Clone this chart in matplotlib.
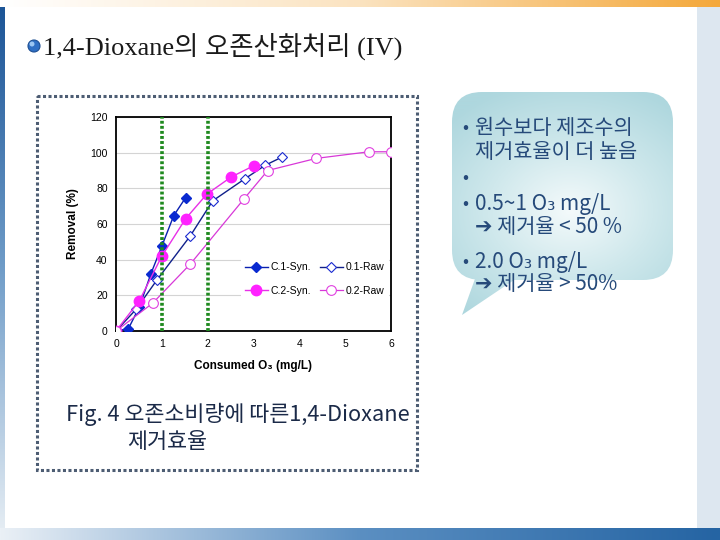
import numpy as np
import matplotlib
matplotlib.use("Agg")
from matplotlib import pyplot as plt
from matplotlib.patches import FancyBboxPatch, Polygon, Circle
from matplotlib.colors import LinearSegmentedColormap

# data
c1_syn_x = [0, 0.27, 0.51, 0.76, 1.0, 1.26, 1.52]
c1_syn_y = [0, 1.3, 13.5, 32, 47.6, 64.7, 74.8]
raw1_x = [0, 0.44, 0.89, 1.62, 2.11, 2.82, 3.26, 3.62]
raw1_y = [0, 12.2, 28.5, 53.3, 73, 85.5, 93, 97.5]
c2_syn_x = [0, 0.51, 1.0, 1.52, 1.98, 2.51, 3.0]
c2_syn_y = [0, 17, 42, 63, 76.7, 86.3, 92.6]
raw2_x = [0, 0.8, 1.62, 2.79, 3.31, 4.37, 5.52, 6.0]
raw2_y = [0, 15.6, 37.5, 74, 90, 96.8, 100.5, 100.5]
dose_marks = [1, 2]

title = "1,4-Dioxane의 오존산화처리 (IV)"
caption1 = "Fig. 4 오존소비량에 따른1,4-Dioxane"
caption2 = "제거효율"
bubble_lines = [
    ("•", "원수보다 제조수의", 128),
    ("", "제거효율이 더 높음", 152),
    ("•", "", 178),
    ("•", "0.5~1 O₃ mg/L", 204),
    ("", "➔ 제거율 < 50 %", 227),
    ("•", "2.0 O₃ mg/L", 262),
    ("", "➔ 제거율 > 50%", 284),
]

kr = ['Noto Sans CJK KR', 'DejaVu Sans']
sans = ['Liberation Sans', 'DejaVu Sans']
fig = plt.figure(figsize=(7.2, 5.4), dpi=100)

# slide background, pixel coordinates
bg = fig.add_axes([0, 0, 1, 1], zorder=0)
bg.set_xlim(0, 720)
bg.set_ylim(540, 0)
bg.axis('off')

top_cmap = LinearSegmentedColormap.from_list('top', ['#ffffff', '#fbe3c0', '#f4a83a'])
bg.imshow(np.linspace(0, 1, 256)[None, :], cmap=top_cmap, extent=[0, 720, 7, 0], aspect='auto')
left_cmap = LinearSegmentedColormap.from_list('left', ['#1c5597', '#6f9cc8', '#e4ecf3'])
bg.imshow(np.linspace(0, 1, 256)[:, None], cmap=left_cmap, extent=[0, 5, 528, 7], aspect='auto')
bot_cmap = LinearSegmentedColormap.from_list('bot', ['#eaf0f6', '#5b8fc2', '#2564a3'])
bg.imshow(np.linspace(0, 1, 256)[None, :], cmap=bot_cmap, extent=[0, 720, 540, 528], aspect='auto')
bg.add_patch(plt.Rectangle((697, 7), 23, 521, facecolor='#dde7f0', edgecolor='none'))

# title with blue bullet
bg.add_patch(Circle((34, 46), 6, facecolor='#2f6fc4', edgecolor='#1d4f93', lw=0.8))
bg.add_patch(Circle((32, 44), 2.5, facecolor='#9cc6f2', edgecolor='none'))
bg.text(43, 46, title, fontsize=19, family=['Liberation Serif', 'Noto Sans CJK KR'],
        color='#1a1a1a', va='center', ha='left')

# dotted frame around chart
bg.add_patch(plt.Rectangle((37, 96), 380, 374, facecolor='none', edgecolor='#4d5d73',
                           lw=2.2, ls=(0, (1, 0.8))))

# speech bubble with radial gradient
yy, xx = np.mgrid[0:300, 0:300]
r = np.hypot((xx - 150) / 150.0, (yy - 150) / 150.0)
bub_cmap = LinearSegmentedColormap.from_list('bub', ['#f4fafb', '#cfe8ec', '#aed7de'])
box = FancyBboxPatch((452, 92), 221, 188, boxstyle='round,pad=0,rounding_size=30',
                     facecolor='none', edgecolor='none')
tail = Polygon([(476, 276), (462, 315), (520, 276)], closed=True,
               facecolor='none', edgecolor='none')
bg.add_patch(box)
bg.add_patch(tail)
for p in (box, tail):
    im = bg.imshow(r, cmap=bub_cmap, extent=[420, 720, 330, 90], aspect='auto',
                   vmin=0, vmax=1.1)
    im.set_clip_path(p)

for bullet, txt, y in bubble_lines:
    if bullet:
        bg.text(462, y, bullet, fontsize=13, family=kr, color='#264a7a', va='center')
    if txt:
        bg.text(475, y, txt, fontsize=15, family=kr, color='#264a7a', va='center',
                fontweight='medium')

bg.text(66, 414, caption1, fontsize=15.7, family=kr, color='#1b2a48', va='center',
        fontweight='medium')
bg.text(127, 442, caption2, fontsize=15.7, family=kr, color='#1b2a48', va='center',
        fontweight='medium')

# chart
ax = fig.add_axes([116 / 720, 1 - 331 / 540, 275 / 720, 214 / 540], zorder=1)
ax.set_facecolor('white')
ax.set_xlim(0, 6)
ax.set_ylim(0, 120)
ax.set_xticks(range(0, 7))
ax.set_yticks(range(0, 121, 20))
ax.yaxis.grid(True, color='#d4d4d4', lw=0.8)
ax.set_axisbelow(True)
for s in ax.spines.values():
    s.set_color('black')
    s.set_linewidth(1.3)
ax.tick_params(labelsize=7.5, length=0, pad=6)
for lab in ax.get_xticklabels() + ax.get_yticklabels():
    lab.set_family('Liberation Sans')

h1, = ax.plot(c1_syn_x, c1_syn_y, color='#0a1fb0', lw=1, marker='D', ms=5.5,
              mfc='#0a2ad0', mec='#0a2ad0', label='C.1-Syn.', zorder=3)
h2, = ax.plot(raw1_x, raw1_y, color='#10208a', lw=1, marker='D', ms=5.5,
              mfc='white', mec='#1a2ad0', mew=0.8, label='0.1-Raw', zorder=3)
h3, = ax.plot(c2_syn_x, c2_syn_y, color='#e830e8', lw=1, marker='o', ms=7.5,
              mfc='#ff22ff', mec='#ff22ff', label='C.2-Syn.', zorder=3)
h4, = ax.plot(raw2_x, raw2_y, color='#d838d8', lw=0.9, marker='o', ms=7,
              mfc='white', mec='#e040e0', mew=0.8, label='0.2-Raw', zorder=3)
for xv in dose_marks:
    ax.axvline(xv, color='#1f8a1f', lw=2.6, ls=(0, (0.8, 0.6)), zorder=4)

leg = ax.legend(handles=[h1, h3, h2, h4], ncol=2, loc='center',
                bbox_to_anchor=(0.722, 0.243),
                frameon=True, facecolor='white', edgecolor='none', framealpha=1,
                fancybox=False, handlelength=2.2, handletextpad=0.3, columnspacing=0.8,
                labelspacing=1.3, borderpad=0.4, prop={'family': 'Liberation Sans', 'size': 7.5})
leg.set_zorder(5)

ax.set_ylabel('Removal (%)', fontsize=8.5, fontweight='bold', family=sans, labelpad=8)
ax.set_xlabel('Consumed O₃ (mg/L)', fontsize=8.5, fontweight='bold', family=sans, labelpad=8)

fig.savefig('out.png', dpi=100)
